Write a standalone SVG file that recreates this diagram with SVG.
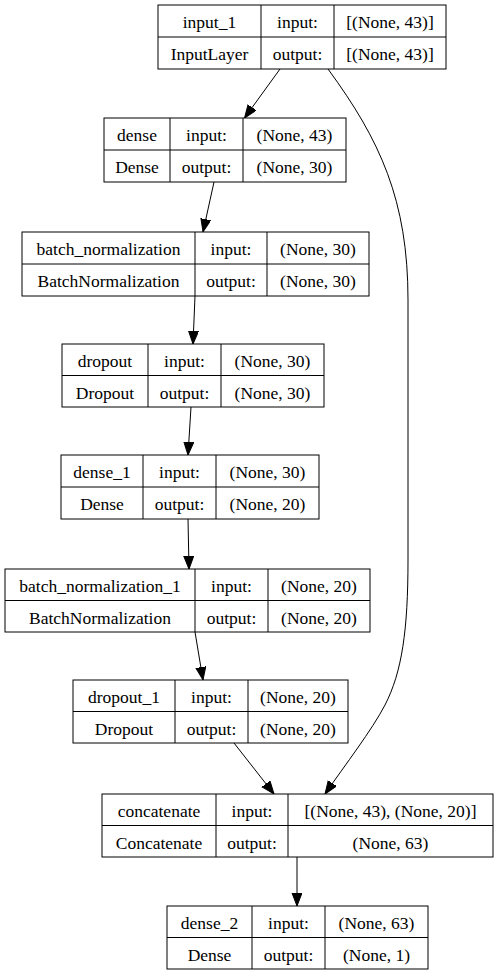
<svg xmlns="http://www.w3.org/2000/svg" width="498" height="977" viewBox="0 0 498 977" font-family="'Liberation Serif', 'Times New Roman', serif">
<defs>
<style>
.box{fill:#fff;stroke:#000;stroke-width:1}
.ln{fill:none;stroke:#000;stroke-width:1}
text{font-family:'Liberation Serif','Times New Roman',serif;font-size:17.5px;fill:#000;text-anchor:middle}
.edge{fill:none;stroke:#000;stroke-width:1;marker-end:url(#ah)}
</style>
<marker id="ah" markerUnits="userSpaceOnUse" markerWidth="14" markerHeight="11" refX="13" refY="5" orient="auto">
<path d="M0,0 L13,5 L0,10 z" fill="#000" stroke="#000" stroke-width="1"/>
</marker>
</defs>
<rect width="498" height="977" fill="#fff"/>

<g id="edges">
<path class="edge" d="M280,69 L244.5,118"/>
<path class="edge" d="M328,69 C380,140 408,200 408,300 L408,560 C408,630 402,672 385,705 C372,730 345,765 325,794"/>
<path class="edge" d="M214,182 L203,232"/>
<path class="edge" d="M195,296 L193,344"/>
<path class="edge" d="M191,407 L188,455"/>
<path class="edge" d="M188,519 L189,569"/>
<path class="edge" d="M195,632 L203,680"/>
<path class="edge" d="M234,743 L274,794"/>
<path class="edge" d="M297,857 L297,906"/>
</g>

<g id="input_1">
<rect class="box" x="158" y="5" width="288" height="64"/>
<path class="ln" d="M158,37 H446 M261,5 V69 M334,5 V69"/>
<text x="209.5" y="28">input_1</text><text x="297.5" y="28">input:</text><text x="390" y="28">[(None, 43)]</text>
<text x="209.5" y="60">InputLayer</text><text x="297.5" y="60">output:</text><text x="390" y="60">[(None, 43)]</text>
</g>

<g id="dense">
<rect class="box" x="104" y="118" width="242" height="64"/>
<path class="ln" d="M104,150 H346 M170,118 V182 M243,118 V182"/>
<text x="137" y="141">dense</text><text x="206.5" y="141">input:</text><text x="294.5" y="141">(None, 43)</text>
<text x="137" y="173">Dense</text><text x="206.5" y="173">output:</text><text x="294.5" y="173">(None, 30)</text>
</g>

<g id="batch_normalization">
<rect class="box" x="22" y="232" width="347" height="64"/>
<path class="ln" d="M22,264 H369 M195,232 V296 M267,232 V296"/>
<text x="108.5" y="255">batch_normalization</text><text x="231" y="255">input:</text><text x="318" y="255">(None, 30)</text>
<text x="108.5" y="287">BatchNormalization</text><text x="231" y="287">output:</text><text x="318" y="287">(None, 30)</text>
</g>

<g id="dropout">
<rect class="box" x="62" y="344" width="262" height="63"/>
<path class="ln" d="M62,375.5 H324 M148,344 V407 M221,344 V407"/>
<text x="105" y="367">dropout</text><text x="184.5" y="367">input:</text><text x="272.5" y="367">(None, 30)</text>
<text x="105" y="398.5">Dropout</text><text x="184.5" y="398.5">output:</text><text x="272.5" y="398.5">(None, 30)</text>
</g>

<g id="dense_1">
<rect class="box" x="61" y="455" width="258" height="64"/>
<path class="ln" d="M61,487 H319 M143,455 V519 M216,455 V519"/>
<text x="102" y="478">dense_1</text><text x="179.5" y="478">input:</text><text x="267.5" y="478">(None, 30)</text>
<text x="102" y="510">Dense</text><text x="179.5" y="510">output:</text><text x="267.5" y="510">(None, 20)</text>
</g>

<g id="batch_normalization_1">
<rect class="box" x="5" y="569" width="365" height="63"/>
<path class="ln" d="M5,600.5 H370 M195,569 V632 M268,569 V632"/>
<text x="100" y="592">batch_normalization_1</text><text x="231.5" y="592">input:</text><text x="319" y="592">(None, 20)</text>
<text x="100" y="623.5">BatchNormalization</text><text x="231.5" y="623.5">output:</text><text x="319" y="623.5">(None, 20)</text>
</g>

<g id="dropout_1">
<rect class="box" x="73" y="680" width="275" height="63"/>
<path class="ln" d="M73,711.5 H348 M175,680 V743 M248,680 V743"/>
<text x="124" y="703">dropout_1</text><text x="211.5" y="703">input:</text><text x="298" y="703">(None, 20)</text>
<text x="124" y="734.5">Dropout</text><text x="211.5" y="734.5">output:</text><text x="298" y="734.5">(None, 20)</text>
</g>

<g id="concatenate">
<rect class="box" x="102" y="794" width="391" height="63"/>
<path class="ln" d="M102,825.5 H493 M216,794 V857 M288,794 V857"/>
<text x="159" y="817">concatenate</text><text x="252" y="817">input:</text><text x="390.5" y="817">[(None, 43), (None, 20)]</text>
<text x="159" y="848.5">Concatenate</text><text x="252" y="848.5">output:</text><text x="390.5" y="848.5">(None, 63)</text>
</g>

<g id="dense_2">
<rect class="box" x="167" y="906" width="261" height="63"/>
<path class="ln" d="M167,937.5 H428 M252,906 V969 M325,906 V969"/>
<text x="209.5" y="929">dense_2</text><text x="288.5" y="929">input:</text><text x="376.5" y="929">(None, 63)</text>
<text x="209.5" y="960.5">Dense</text><text x="288.5" y="960.5">output:</text><text x="376.5" y="960.5">(None, 1)</text>
</g>
</svg>
